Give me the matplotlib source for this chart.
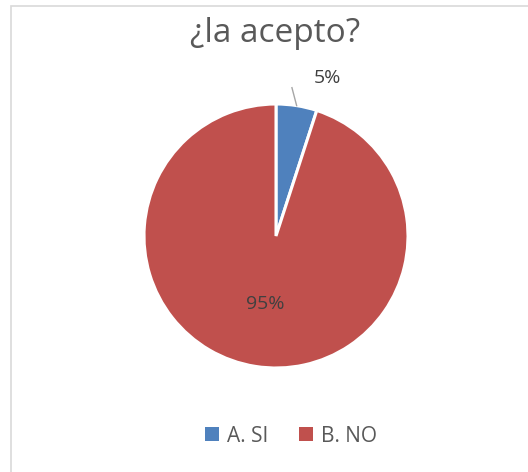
import numpy as np
import matplotlib.pyplot as plt
from matplotlib.patches import Patch, Rectangle

# survey answers
categories = ['A. SI', 'B. NO']
values = [5, 95]
colors = ['#4F81BD', '#C0504D']
title = '¿la acepto?'

plt.rcParams['font.family'] = ['Open Sans', 'DejaVu Sans']

W, H = 528, 472
fig = plt.figure(figsize=(W / 100, H / 100), dpi=100)

# light frame round the chart area
fig.patches.append(Rectangle((11 / W, -0.1), 1.2, (H - 6) / H + 0.1,
                             transform=fig.transFigure, fill=False,
                             edgecolor='#D9D9D9', linewidth=1.2))

# pie box: centre (276, 236) px, radius 132 px
cx, cy, r = 276, H - 236, 132
ax = fig.add_axes([(cx - r) / W, (cy - r) / H, 2 * r / W, 2 * r / H])
wedges, _ = ax.pie(values, colors=colors, startangle=90, counterclock=False,
                   radius=1, wedgeprops=dict(edgecolor='white', linewidth=2.2))
ax.set_xlim(-1, 1)
ax.set_ylim(-1, 1)
ax.axis('off')

total = sum(values)
pct = [v / total * 100 for v in values]

# small slice: label outside with a leader line
mid = np.deg2rad(90 - values[0] / total * 360 / 2)
ax.plot([np.cos(mid), 1.13 * np.cos(mid + 0.05)],
        [np.sin(mid), 1.13 * np.sin(mid + 0.05)],
        color='#A6A6A6', linewidth=1, clip_on=False)
ax.text(0.39, 1.20, f'{pct[0]:.0f}%', ha='center', va='center',
        fontsize=14, color='#404040')

# big slice: label inside
mid2 = np.deg2rad(90 - (values[0] + values[1] / 2) / total * 360)
ax.text(0.52 * np.cos(mid2), 0.52 * np.sin(mid2), f'{pct[1]:.0f}%',
        ha='center', va='center', fontsize=14, color='#404040')

fig.text(275 / W, (H - 33) / H, title, ha='center', va='center',
         fontsize=24, color='#595959')

handles = [Patch(facecolor=c, edgecolor='none') for c in colors]
fig.legend(handles, categories, loc='center', bbox_to_anchor=(291 / W, 36 / H),
           ncol=2, frameon=False, fontsize=15, labelcolor='#595959',
           handlelength=0.67, handleheight=0.67, handletextpad=0.38,
           columnspacing=1.5, borderpad=0, borderaxespad=0)

fig.savefig('out.png', dpi=100, facecolor='white')
